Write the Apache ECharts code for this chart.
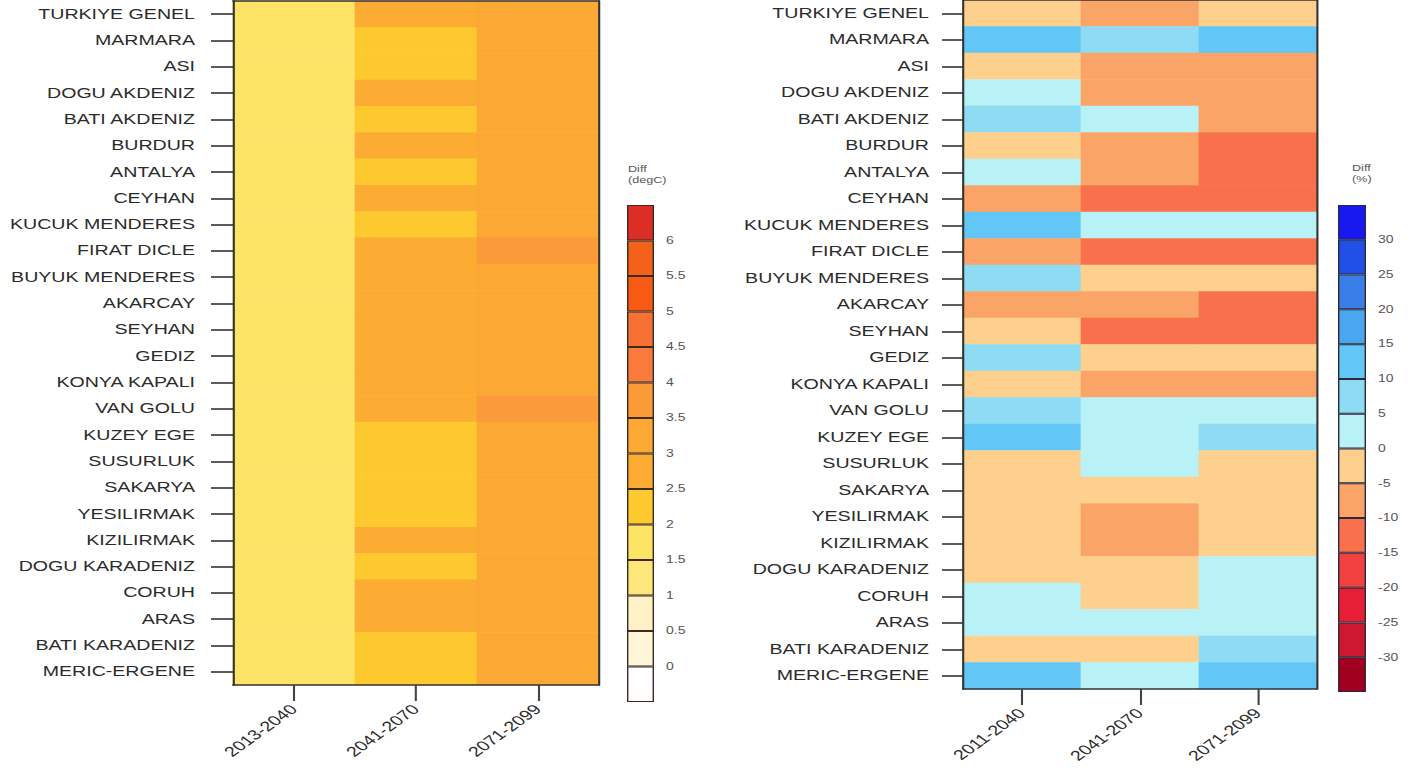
<!DOCTYPE html>
<html>
<head>
<meta charset="utf-8">
<script src="https://cdn.jsdelivr.net/npm/echarts@6/dist/echarts.min.js"></script>
<style>
html,body{margin:0;padding:0;background:#fff;overflow:hidden;width:1416px;height:774px;}
#chart{width:1012px;height:774px;transform:scaleX(1.4);transform-origin:0 0;}
</style>
</head>
<body>
<div id="chart"></div>
<script>
// ---------- DATA ----------
const regions = ['TURKIYE GENEL','MARMARA','ASI','DOGU AKDENIZ','BATI AKDENIZ','BURDUR','ANTALYA','CEYHAN','KUCUK MENDERES','FIRAT DICLE','BUYUK MENDERES','AKARCAY','SEYHAN','GEDIZ','KONYA KAPALI','VAN GOLU','KUZEY EGE','SUSURLUK','SAKARYA','YESILIRMAK','KIZILIRMAK','DOGU KARADENIZ','CORUH','ARAS','BATI KARADENIZ','MERIC-ERGENE'];

const tempPeriods = ['2013-2040','2041-2070','2071-2099'];
const precipPeriods = ['2011-2040','2041-2070','2071-2099'];

// temperature difference (degC), one array per period, rows in region order
const temp2013_2040 = [1.7,1.7,1.7,1.7,1.7,1.7,1.7,1.7,1.7,1.7,1.7,1.7,1.7,1.7,1.7,1.7,1.7,1.7,1.7,1.7,1.7,1.7,1.7,1.7,1.7,1.7];
const temp2041_2070 = [2.8,2.3,2.3,2.8,2.3,2.8,2.3,2.8,2.3,2.8,2.8,2.8,2.8,2.8,2.8,2.8,2.3,2.3,2.3,2.3,2.8,2.3,2.8,2.8,2.3,2.3];
const temp2071_2099 = [3.3,3.3,3.3,3.3,3.3,3.3,3.3,3.3,3.3,3.7,3.3,3.3,3.3,3.3,3.3,3.7,3.3,3.3,3.3,3.3,3.3,3.3,3.3,3.3,3.3,3.3];

// precipitation difference (%)
const precip2011_2040 = [-3,12,-3,2,7,-3,2,-7,12,-7,7,-7,-3,7,-3,7,12,-3,-3,-3,-3,-3,2,2,-3,12];
const precip2041_2070 = [-7,7,-7,-7,2,-7,-7,-12,2,-12,-3,-7,-12,-3,-7,2,2,2,-3,-7,-7,-3,-3,2,-3,2];
const precip2071_2099 = [-3,12,-7,-7,-7,-12,-12,-12,2,-12,-3,-12,-12,-3,-7,2,7,-3,-3,-3,-3,2,2,2,7,12];

// colour scales (breaks and colours from low to high)
const tempBreaks = [0,0.5,1,1.5,2,2.5,3,3.5,4,4.5,5,5.5,6];
const tempColors = ['#ffffff','#fff6da','#fff1c6','#fee67a','#fde466','#fdc92e','#fcac32','#fca834','#fb9a38','#f97a3a','#f77034','#f75a12','#f4621a','#dc2e24'];
const tempTickLabels = ['0','0.5','1','1.5','2','2.5','3','3.5','4','4.5','5','5.5','6'];

const precipBreaks = [-30,-25,-20,-15,-10,-5,0,5,10,15,20,25,30];
const precipColors = ['#a0001e','#cc1830','#e61e36','#f04040','#f8704c','#fba468','#fdd08e','#b8f2f6','#8edcf4','#62c6f6','#4aa6ee','#3a7fe8','#2050e8','#1818f0'];
const precipTickLabels = ['-30','-25','-20','-15','-10','-5','0','5','10','15','20','25','30'];

// ---------- BUILD ----------
function heatData(cols){const d=[];cols.forEach((a,ci)=>a.forEach((v,ri)=>d.push([ci,ri,v])));return d;}
function pieces(br,co){const p=[{lt:br[0],color:co[0]}];for(let i=1;i<br.length;i++)p.push({gte:br[i-1],lt:br[i],color:co[i]});p.push({gte:br[br.length-1],color:co[co.length-1]});return p;}
function binNames(n){return Array.from({length:n},(_,i)=>'b'+i);}
function barData(co){return co.map(c=>({value:1,itemStyle:{color:c}}));}

const FONT = '"Liberation Sans", Arial, Helvetica, sans-serif';
const TXT = '#2b2b2b';
const S = 1.4;
const X = v => v / S;

const heatGrids = [
  {left:X(233), top:1, width:X(599-233), height:684},
  {left:X(963), top:-2, width:X(1317-963), height:691}
];
const cbGrids = [
  {left:X(627), top:205, width:X(27), height:497},
  {left:X(1338), top:205, width:X(28), height:487}
];

const grid = [heatGrids[0], cbGrids[0], heatGrids[1], cbGrids[1]];

function catX(gi, data, bottom){
  return bottom ? {
    type:'category', gridIndex:gi, data:data, position:'bottom', z:10,
    axisLine:{show:true, lineStyle:{color:'#333', width:1.5}},
    axisTick:{show:true, alignWithLabel:true, length:16, lineStyle:{color:'#444', width:1.5}},
    axisLabel:{rotate:45, margin:22, fontSize:14, color:TXT, fontFamily:FONT},
    splitLine:{show:false}
  } : {
    type:'category', gridIndex:gi, data:data, position:'top', z:10,
    axisLine:{show:true, lineStyle:{color:'#333', width:1.5}},
    axisTick:{show:false}, axisLabel:{show:false}, splitLine:{show:false}
  };
}
function catY(gi, left, labelMargin, tickLen){
  return left ? {
    type:'category', gridIndex:gi, data:regions, inverse:true, position:'left', z:10,
    axisLine:{show:true, lineStyle:{color:'#333', width:1.5}},
    axisTick:{show:true, alignWithLabel:true, length:tickLen, lineStyle:{color:'#333', width:1.6}},
    axisLabel:{margin:labelMargin, fontSize:14, color:TXT, fontFamily:FONT},
    splitLine:{show:false}
  } : {
    type:'category', gridIndex:gi, data:regions, inverse:true, position:'right', z:10,
    axisLine:{show:true, lineStyle:{color:'#333', width:1.5}},
    axisTick:{show:false}, axisLabel:{show:false}, splitLine:{show:false}
  };
}
function cbValueX(gi){return {type:'value', gridIndex:gi, min:0, max:1, show:false};}
function cbCatY(gi,n){return {type:'category', gridIndex:gi, data:binNames(n), position:'left', show:false};}
function cbValY(gi,min,max,interval,labels){
  return {type:'value', gridIndex:gi, min:min, max:max, interval:interval, position:'right',
    axisLine:{show:false}, axisTick:{show:false}, splitLine:{show:false},
    axisLabel:{margin:X(12), fontSize:10, color:'#555', fontFamily:FONT,
      formatter:function(v){const s=String(Math.round(v*10)/10);return labels.indexOf(s)>=0?s:'';}}};
}

const option = {
  animation:false,
  backgroundColor:'#ffffff',
  grid:grid,
  xAxis:[
    catX(0,tempPeriods,true), catX(0,tempPeriods,false),
    cbValueX(1),
    catX(2,precipPeriods,true), catX(2,precipPeriods,false),
    cbValueX(3)
  ],
  yAxis:[
    catY(0,true,X(38),X(22)), catY(0,false),
    cbCatY(1,tempColors.length), cbValY(1,-0.5,6.5,0.5,tempTickLabels),
    catY(2,true,X(34),X(21)), catY(2,false),
    cbCatY(3,precipColors.length), cbValY(3,-35,35,5,precipTickLabels)
  ],
  visualMap:[
    {type:'piecewise', show:false, seriesIndex:0, dimension:2, pieces:pieces(tempBreaks,tempColors)},
    {type:'piecewise', show:false, seriesIndex:2, dimension:2, pieces:pieces(precipBreaks,precipColors)}
  ],
  graphic:[
    {type:'text', left:X(628), top:163, style:{text:'Diff\n(degC)', fontSize:9, lineHeight:11, fill:'#555', fontFamily:FONT}},
    {type:'text', left:X(1352), top:162, style:{text:'Diff\n(%)', fontSize:9, lineHeight:11, fill:'#555', fontFamily:FONT}}
  ],
  series:[
    {type:'heatmap', xAxisIndex:0, yAxisIndex:0, data:heatData([temp2013_2040,temp2041_2070,temp2071_2099]), silent:true, itemStyle:{borderWidth:0}},
    {type:'bar', xAxisIndex:2, yAxisIndex:2, data:barData(tempColors), barWidth:'100%', silent:true, itemStyle:{borderColor:'#3a2a22', borderWidth:1}},
    {type:'heatmap', xAxisIndex:3, yAxisIndex:4, data:heatData([precip2011_2040,precip2041_2070,precip2071_2099]), silent:true, itemStyle:{borderWidth:0}},
    {type:'bar', xAxisIndex:5, yAxisIndex:6, data:barData(precipColors), barWidth:'100%', silent:true, itemStyle:{borderColor:'#2a2a3a', borderWidth:1}}
  ]
};

const chart = echarts.init(document.getElementById('chart'), null, {renderer:'svg', width:1012, height:774});
chart.setOption(option);
</script>
</body>
</html>
